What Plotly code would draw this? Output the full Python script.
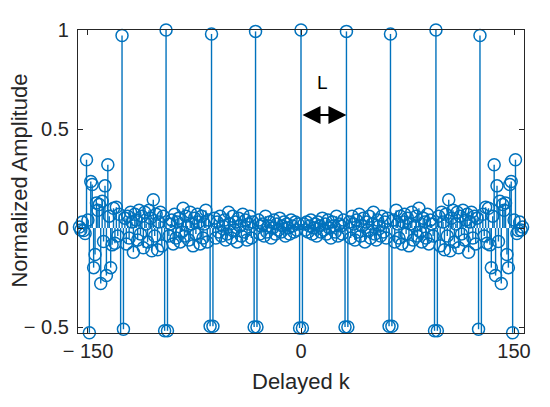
import plotly.graph_objects as go

# normalized autocorrelation, lags 0..156 (the plot is symmetric about k = 0)
half_amp = [
    1.000, -0.505, 0.02, -0.01, 0.03, -0.02, 0.01, 0.04, -0.03, 0.00,
    0.02, -0.04, 0.03, 0.01, -0.02, 0.05, -0.01, 0.02, -0.03, 0.04,
    0.00, -0.05, 0.03, 0.01, -0.02, 0.06, -0.04, 0.02, 0.01, -0.03,
    0.04, -0.500, 0.993, -0.500, 0.03, -0.05, 0.06, 0.02, -0.06, 0.04,
    -0.02, 0.07, -0.04, 0.01, 0.05, -0.07, 0.03, -0.01, 0.06, -0.05,
    0.02, 0.08, -0.03, -0.06, 0.04, 0.01, -0.04, 0.06, -0.02, 0.03,
    -0.05, 0.05, -0.496, 0.980, -0.496, 0.04, -0.07, 0.09, 0.02, -0.05,
    0.06, -0.08, 0.03, 0.07, -0.03, 0.05, -0.09, 0.02, 0.08, -0.06,
    0.01, 0.06, -0.04, 0.10, -0.02, -0.07, 0.05, 0.03, -0.05, 0.07,
    -0.08, 0.04, 0.02, -0.04, -0.519, 1.000, -0.519, 0.06, -0.09, 0.08,
    0.03, -0.11, 0.07, -0.04, 0.143, -0.115, 0.05, 0.09, -0.07, 0.02,
    0.08, -0.10, 0.06, -0.03, 0.09, -0.06, 0.04, 0.07, -0.122, 0.03,
    0.08, -0.05, 0.06, -0.08, 0.05, -0.511, 0.972, -0.532, 0.07, -0.04,
    0.105, -0.077, 0.10, -0.085, -0.20, 0.06, 0.32, -0.24, 0.213, -0.068,
    0.135, -0.28, 0.119, 0.09, 0.127, -0.134, -0.20, 0.22, 0.235, -0.529,
    0.04, 0.345, -0.028, -0.012, 0.03, -0.01, 0.005,
]
max_lag = len(half_amp) - 1
lags = list(range(-max_lag, max_lag + 1))
amp = half_amp[:0:-1] + half_amp

x_ticks = [-150, 0, 150]
x_ticktext = ["\u2212 150", "0", "150"]
y_ticks = [-0.5, 0, 0.5, 1]
y_ticktext = ["\u2212 0.5", "0", "0.5", "1"]

BLUE = "#0072BD"
AXC = "#262626"
FONT = "Liberation Sans, Arial, sans-serif"

# stems: one line segment per lag, from 0 to the value
stem_x, stem_y = [], []
for k, v in zip(lags, amp):
    stem_x += [k, k, None]
    stem_y += [0, v, None]

fig = go.Figure()
fig.add_trace(go.Scatter(
    x=stem_x, y=stem_y, mode="lines",
    line=dict(color=BLUE, width=1.4),
    hoverinfo="skip", showlegend=False,
))
fig.add_trace(go.Scatter(
    x=lags, y=amp, mode="markers",
    marker=dict(symbol="circle-open", size=12, color=BLUE, line=dict(width=1.5)),
    cliponaxis=False, showlegend=False,
))

# L marker between the 0 and first periodic peak
fig.add_annotation(
    x=32, y=0.571, ax=0, ay=0.571, xref="x", yref="y", axref="x", ayref="y",
    text="", showarrow=True, arrowside="end+start",
    arrowhead=2, arrowsize=1.8, arrowwidth=2, arrowcolor="black",
)
fig.add_annotation(
    x=15.4, y=0.737, xref="x", yref="y", text="L", showarrow=False,
    font=dict(size=19, color="black", family=FONT),
)

# axis titles
fig.add_annotation(
    x=0.5, y=-0.159, xref="paper", yref="paper", text="Delayed k",
    showarrow=False, xanchor="center", yanchor="middle",
    font=dict(size=22, color=AXC, family=FONT),
)
fig.add_annotation(
    x=-0.13, y=0.503, xref="paper", yref="paper", text="Normalized Amplitude",
    showarrow=False, textangle=-90, xanchor="center", yanchor="middle",
    font=dict(size=22, color=AXC, family=FONT),
)

fig.update_xaxes(
    range=[-157, 157], tickvals=x_ticks, ticktext=x_ticktext,
    ticks="inside", ticklen=5, tickcolor=AXC, showgrid=False, zeroline=False,
    showline=True, linecolor=AXC, linewidth=1.2, mirror="ticks",
    tickfont=dict(size=20, color=AXC, family=FONT),
)
fig.update_yaxes(
    range=[-0.53, 1.0], tickvals=y_ticks, ticktext=y_ticktext,
    ticks="inside", ticklen=5, tickcolor=AXC, showgrid=False, zeroline=False,
    showline=True, linecolor=AXC, linewidth=1.2, mirror="ticks",
    tickfont=dict(size=20, color=AXC, family=FONT), ticklabelstandoff=4,
)
# the page body adds an 8px offset, so margins are shifted to compensate
fig.update_layout(
    width=550, height=407,
    margin=dict(l=70, r=34, t=11, b=82),
    paper_bgcolor="white", plot_bgcolor="white",
    font=dict(family=FONT),
)
fig.write_html("out.html")
